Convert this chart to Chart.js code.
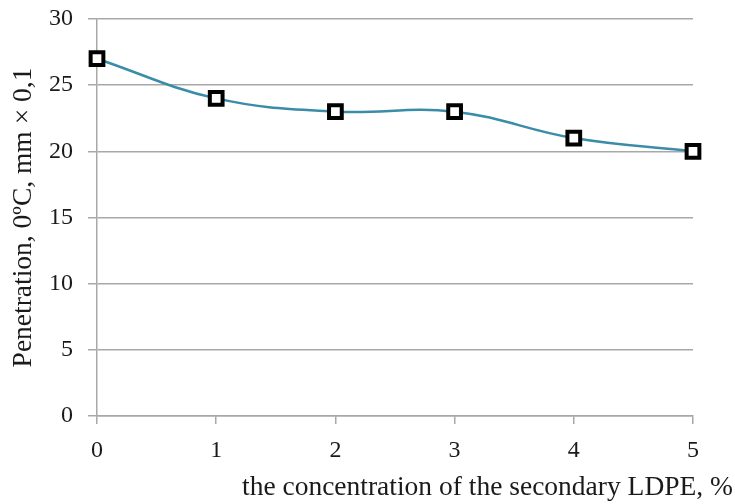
<!DOCTYPE html>
<html>
<head>
<meta charset="utf-8">
<script src="https://cdn.jsdelivr.net/npm/chart.js@4"></script>
<style>
  html, body { margin: 0; padding: 0; background: #fff; }
  #wrap { width: 735px; height: 504px; }
</style>
</head>
<body>
<div id="wrap"><canvas id="penChart" width="735" height="504"></canvas></div>
<script>
const concentrations = ["0", "1", "2", "3", "4", "5"];
const penetration = [27, 24, 23, 23, 21, 20];
const yTitle = "Penetration, 0ºC, mm × 0,1";
const xTitle = "the concentration of the secondary LDPE, %";

const serif = "'Liberation Serif', 'Times New Roman', serif";
const gridGray = "#a8a8a8";

window.onload = () => {
  const ctx = document.getElementById("penChart").getContext("2d");
  new Chart(ctx, {
    type: "line",
    data: {
      labels: concentrations,
      datasets: [
        {
          data: penetration,
          borderColor: "#3a8ca8",
          borderWidth: 2.5,
          tension: 0.4,
          pointStyle: "rect",
          pointRadius: 9,
          pointBorderWidth: 4,
          pointBorderColor: "#000",
          pointBackgroundColor: "#fff",
        },
      ],
    },
    options: {
      responsive: false,
      animation: false,
      layout: { padding: { top: 19, left: 0, right: 2, bottom: 0 } },
      plugins: {
        legend: { display: false },
        tooltip: { enabled: false },
        title: {
          display: true,
          position: "bottom",
          align: "end",
          text: xTitle,
          color: "#1a1a1a",
          font: { family: serif, size: 27.5, weight: "normal" },
          padding: { top: 5, bottom: 0 },
        },
      },
      scales: {
        x: {
          type: "category",
          offset: false,
          afterFit: (s) => { s.height = 50; },
          grid: {
            drawOnChartArea: false,
            drawTicks: true,
            tickLength: 8,
            color: gridGray,
            lineWidth: 1.5,
          },
          border: { display: true, color: gridGray, width: 1.5 },
          ticks: {
            color: "#1a1a1a",
            padding: 12,
            maxRotation: 0,
            font: { family: serif, size: 24 },
          },
        },
        y: {
          min: 0,
          max: 30,
          afterFit: (s) => {
            s.width = 97;
            // let the top label overhang like the original
            s.paddingTop = 0;
            s.paddingBottom = 0;
          },
          grid: { color: gridGray, lineWidth: 1.5, tickLength: 9 },
          border: { display: true, color: gridGray, width: 1.5 },
          ticks: {
            stepSize: 5,
            color: "#1a1a1a",
            padding: 15,
            font: { family: serif, size: 24 },
          },
          title: {
            display: true,
            text: yTitle,
            color: "#1a1a1a",
            font: { family: serif, size: 27.5, weight: "normal" },
            padding: { top: 7, bottom: 0 },
          },
        },
        yRight: {
          type: "linear",
          position: "right",
          afterFit: (s) => { s.width = 40; },
          grid: { display: false },
          border: { display: false },
          ticks: { display: false },
        },
      },
    },
  });
};
</script>
</body>
</html>
